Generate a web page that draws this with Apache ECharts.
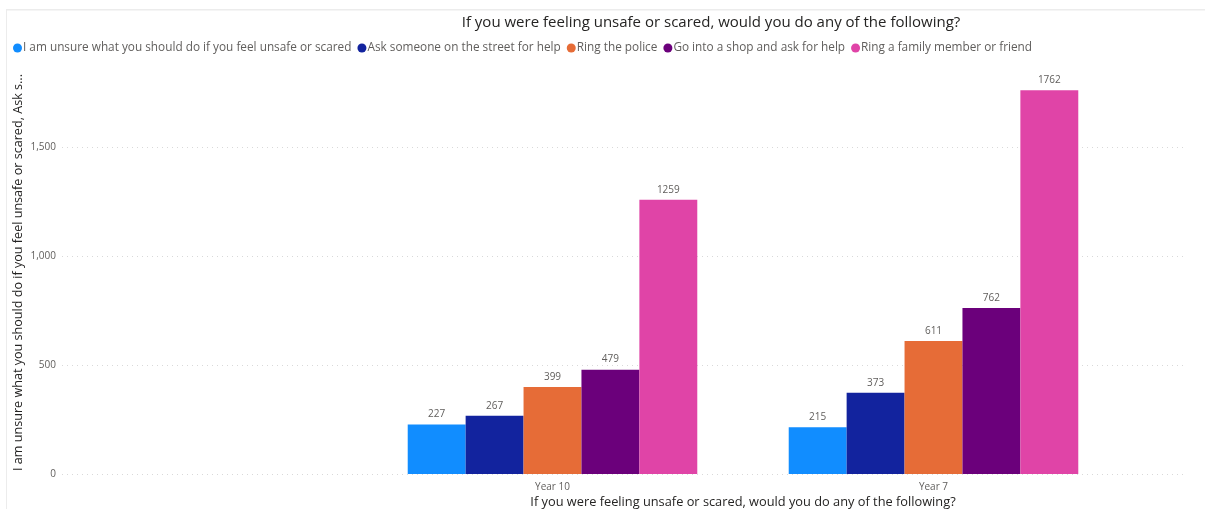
<!DOCTYPE html>
<html>
<head>
<meta charset="utf-8">
<title>If you were feeling unsafe or scared</title>
<script src="https://cdn.jsdelivr.net/npm/echarts@6/dist/echarts.min.js"></script>
<style>
  html, body { margin: 0; padding: 0; background: #fff; }
  #chart { width: 1205px; height: 509px; }
</style>
</head>
<body>
<div id="chart"></div>
<script>
// Year groups on the category axis
const categories = ['Year 10', 'Year 7'];

// Responses per year group
const seriesNames = [
  'I am unsure what you should do if you feel unsafe or scared',
  'Ask someone on the street for help',
  'Ring the police',
  'Go into a shop and ask for help',
  'Ring a family member or friend'
];
const unsure = [227, 215];
const askStreet = [267, 373];
const ringPolice = [399, 611];
const askShop = [479, 762];
const ringFamily = [1259, 1762];

const yTicks = [0, 500, 1000, 1500];

const colors = ['#118DFF', '#12239E', '#E66C37', '#6B007B', '#E044A7'];
const values = [unsure, askStreet, ringPolice, askShop, ringFamily];

const font = '"Open Sans", "Noto Sans", sans-serif';
const yMax = 1850;

const chart = echarts.init(document.getElementById('chart'), null, { renderer: 'canvas' });

const series = seriesNames.map((name, i) => ({
  name: name,
  type: 'bar',
  xAxisIndex: 1,
  yAxisIndex: 1,
  data: values[i],
  barGap: '0%',
  barCategoryGap: '24%',
  itemStyle: { color: colors[i] },
  label: {
    show: true,
    position: 'top',
    distance: 5,
    color: '#605E5C',
    fontSize: 10,
    fontFamily: font
  }
}));

chart.setOption({
  animation: false,
  backgroundColor: '#fff',
  color: colors,
  title: {
    text: 'If you were feeling unsafe or scared, would you do any of the following?',
    left: 706,
    textAlign: 'center',
    top: 10,
    textStyle: { fontSize: 15, fontWeight: 'normal', color: '#252423', fontFamily: font }
  },
  legend: {
    data: seriesNames,
    left: 8,
    top: 37,
    icon: 'circle',
    itemWidth: 9,
    itemHeight: 9,
    itemGap: 6,
    textStyle: { fontSize: 11.8, color: '#605E5C', fontFamily: font, padding: [0, 0, 0, -4] }
  },
  graphic: [
    { type: 'rect', shape: { x: 6, y: 9, width: 1199, height: 1.5 }, style: { fill: '#ececec' }, silent: true },
    { type: 'rect', shape: { x: 6, y: 9, width: 1, height: 500 }, style: { fill: '#ececec' }, silent: true }
  ],
  grid: [
    { left: 62, right: 20, top: 71, bottom: 35, outerBoundsMode: 'none' },
    { left: 362, right: 81, top: 71, bottom: 35, outerBoundsMode: 'none' }
  ],
  xAxis: [
    {
      gridIndex: 0,
      type: 'category',
      data: categories,
      show: false
    },
    {
      gridIndex: 1,
      type: 'category',
      data: categories,
      axisLine: { show: false },
      axisTick: { show: false },
      axisLabel: { color: '#605E5C', fontSize: 10, fontFamily: font, margin: 8 },
      name: 'If you were feeling unsafe or scared, would you do any of the following?',
      nameLocation: 'middle',
      nameGap: 22,
      nameMoveOverlap: false,
      nameTextStyle: { color: '#252423', fontSize: 12.8, fontFamily: font }
    }
  ],
  yAxis: [
    {
      gridIndex: 0,
      type: 'value',
      min: yTicks[0],
      max: yMax,
      interval: 500,
      axisLine: { show: false },
      axisTick: { show: false },
      axisLabel: {
        showMaxLabel: false,
        color: '#605E5C',
        fontSize: 10,
        fontFamily: font,
        margin: 6,
        formatter: v => yTicks.includes(v) ? v.toLocaleString('en-US') : ''
      },
      splitLine: {
        show: true,
        lineStyle: {
          color: ['#d9d9d9', '#d9d9d9', '#d9d9d9', '#d9d9d9', 'rgba(0,0,0,0)'],
          type: [1, 4],
          width: 1
        }
      },
      name: 'I am unsure what you should do if you feel unsafe or scared, Ask s...',
      nameLocation: 'middle',
      nameGap: 37,
      nameMoveOverlap: false,
      nameTextStyle: { color: '#252423', fontSize: 12.6, fontFamily: font }
    },
    {
      gridIndex: 1,
      type: 'value',
      min: 0,
      max: yMax,
      show: false,
      splitLine: { show: false }
    }
  ],
  series: series
});
</script>
</body>
</html>
